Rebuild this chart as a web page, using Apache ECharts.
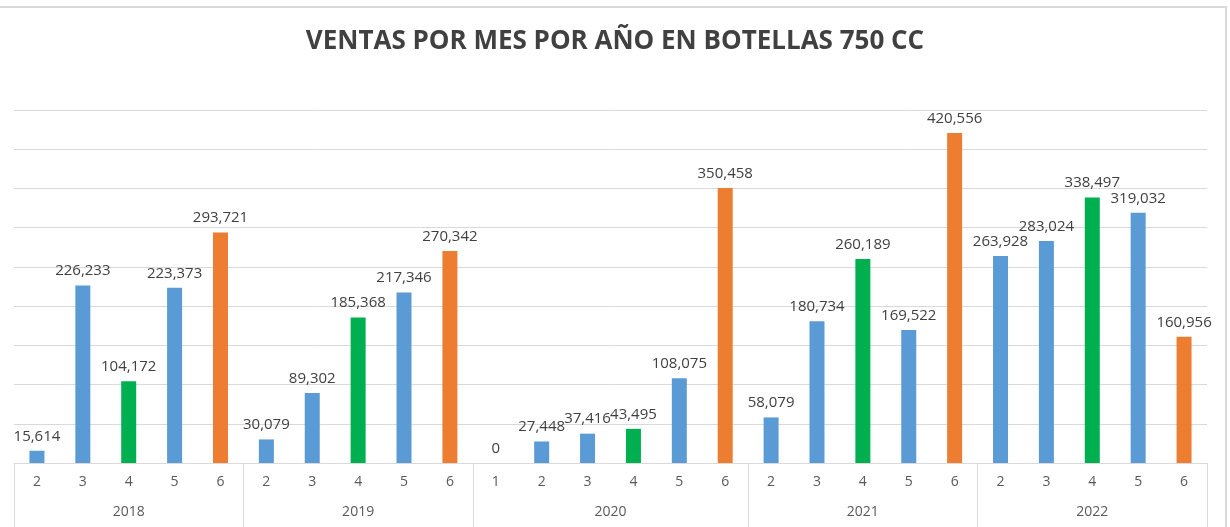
<!DOCTYPE html>
<html>
<head>
<meta charset="utf-8">
<script src="https://cdn.jsdelivr.net/npm/echarts@6/dist/echarts.min.js"></script>
<style>
  html, body { margin: 0; padding: 0; background: #fff; }
  #wrap { position: relative; width: 1230px; height: 527px; }
  #chart { width: 1230px; height: 527px; }
  #frame {
    position: absolute; left: -2px; top: 6px; width: 1227px; height: 540px;
    border-top: 2px solid #d9d9d9; border-right: 2px solid #d9d9d9;
    pointer-events: none;
  }
</style>
</head>
<body>
<div id="wrap">
  <div id="chart"></div>
  <div id="frame"></div>
</div>
<script>
// months shown under each bar, grouped by year
const months = [
  "2", "3", "4", "5", "6",
  "2", "3", "4", "5", "6",
  "1", "2", "3", "4", "5", "6",
  "2", "3", "4", "5", "6",
  "2", "3", "4", "5", "6"
];
const years = ["2018", "2019", "2020", "2021", "2022"];
const monthsPerYear = [5, 5, 6, 5, 5];

const ventas = [
  15614, 226233, 104172, 223373, 293721,
  30079, 89302, 185368, 217346, 270342,
  0, 27448, 37416, 43495, 108075, 350458,
  58079, 180734, 260189, 169522, 420556,
  263928, 283024, 338497, 319032, 160956
];

const blue = "#5b9bd5";
const green = "#00b050";
const orange = "#ed7d31";

function barColor(month) {
  if (month === "4") return green;
  if (month === "6") return orange;
  return blue;
}

// year group boundaries and centers on a 0..n value scale
let yearEdges = [0];
let yearCenters = [];
let acc = 0;
for (let i = 0; i < monthsPerYear.length; i++) {
  yearCenters.push(acc + monthsPerYear[i] / 2);
  acc += monthsPerYear[i];
  yearEdges.push(acc);
}

const chart = echarts.init(document.getElementById("chart"));

const option = {
  animation: false,
  title: {
    text: "VENTAS POR MES POR AÑO EN BOTELLAS 750 CC",
    left: "center",
    top: 24,
    textStyle: {
      fontFamily: "Open Sans",
      fontWeight: "bold",
      fontSize: 26,
      color: "#404040",
    },
  },
  grid: {
    left: 14,
    right: 23,
    top: 110,
    bottom: 64,
  },
  xAxis: [
    {
      type: "category",
      data: months,
      boundaryGap: true,
      axisLine: { lineStyle: { color: "#d9d9d9", width: 1 } },
      axisTick: { show: false },
      axisLabel: {
        margin: 12,
        color: "#595959",
        fontFamily: "Open Sans",
        fontSize: 14,
      },
      splitLine: { show: false },
    },
    {
      type: "value",
      position: "bottom",
      min: 0,
      max: acc,
      axisLine: { show: false },
      splitLine: { show: false },
      axisTick: {
        show: true,
        customValues: yearEdges,
        length: 66,
        lineStyle: { color: "#d9d9d9", width: 1 },
      },
      axisLabel: {
        customValues: yearCenters,
        margin: 42,
        color: "#595959",
        fontFamily: "Open Sans",
        fontSize: 14,
        formatter: function (v) {
          const idx = yearCenters.indexOf(v);
          return idx >= 0 ? years[idx] : "";
        },
      },
    },
  ],
  yAxis: {
    type: "value",
    min: 0,
    max: 450000,
    interval: 50000,
    axisLabel: { show: false },
    axisLine: { show: false },
    axisTick: { show: false },
    splitLine: { lineStyle: { color: "#d9d9d9", width: 1 } },
  },
  series: [
    {
      name: "Ventas",
      type: "bar",
      xAxisIndex: 0,
      barWidth: 15,
      data: ventas.map((v, i) => ({
        value: v,
        itemStyle: { color: barColor(months[i]) },
      })),
      label: {
        show: true,
        position: "top",
        distance: 7,
        color: "#404040",
        fontFamily: "Open Sans",
        fontSize: 15,
        formatter: (p) => p.value.toLocaleString("en-US"),
      },
    },
  ],
};

chart.setOption(option);
</script>
</body>
</html>
